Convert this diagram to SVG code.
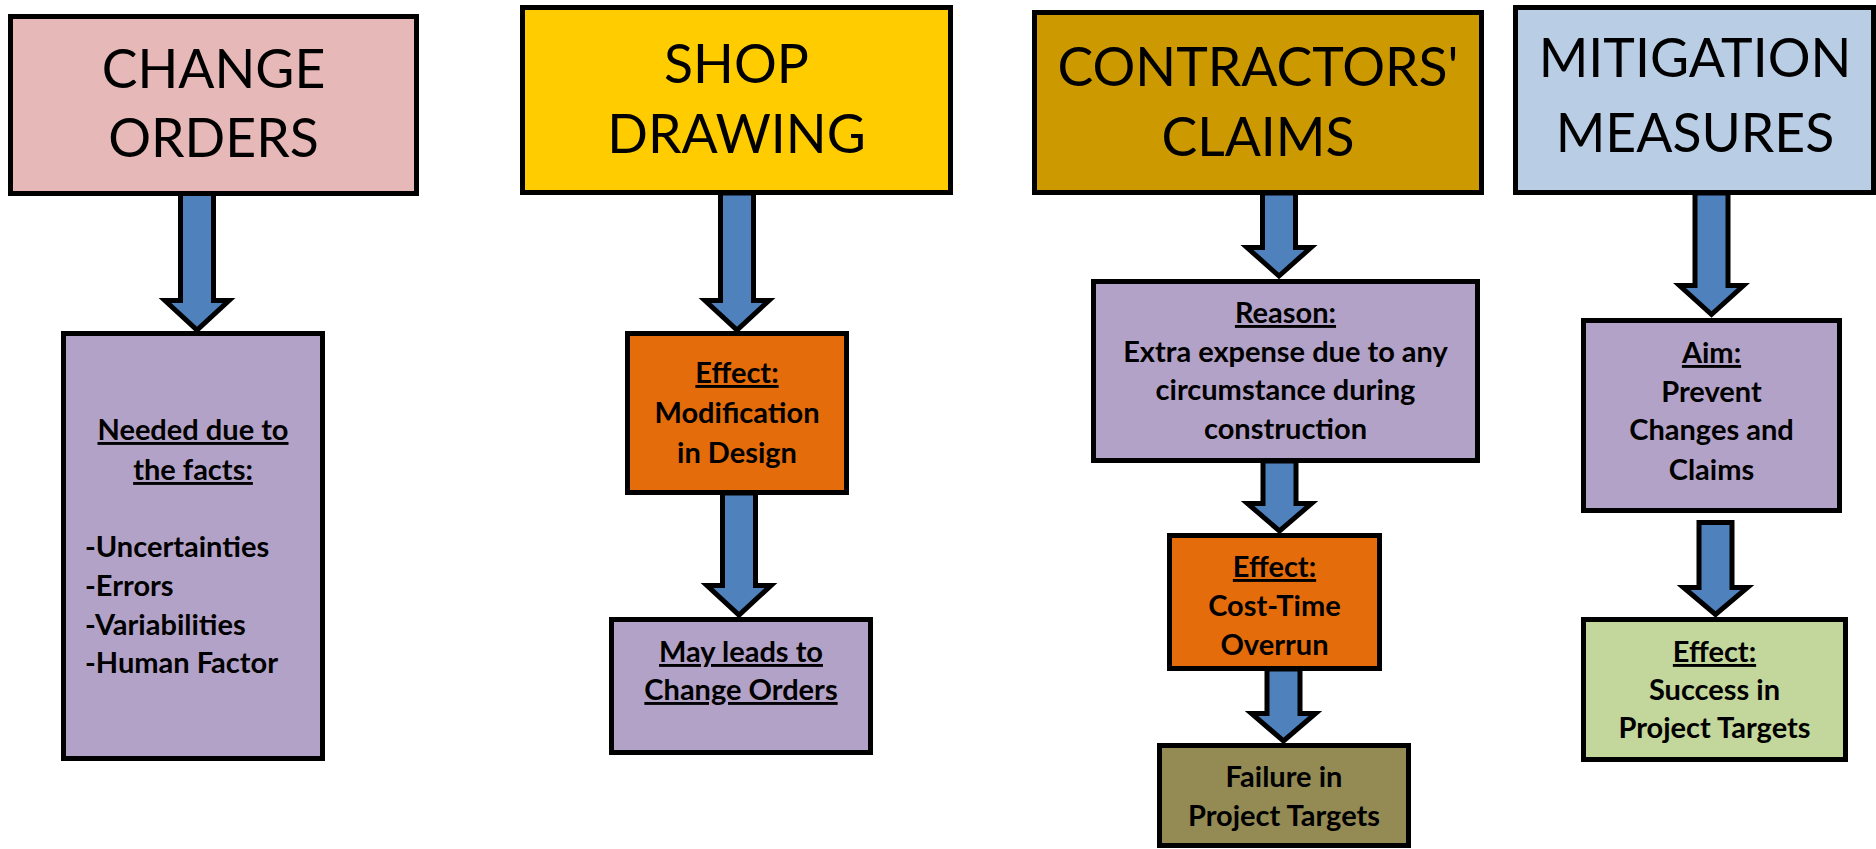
<svg xmlns="http://www.w3.org/2000/svg" width="1876" height="849" viewBox="0 0 1876 849">
  <style>
    .box { stroke: #000; stroke-width: 5; }
    .title { font-family: Lato, "Open Sans", sans-serif; font-size: 53.5px; fill: #000; text-anchor: middle; }
    .body { font-family: Lato, "Open Sans", sans-serif; font-weight: bold; font-size: 29px; fill: #000; text-anchor: middle; }
    .left { text-anchor: start; }
    .u { text-decoration: underline; }
    .arrow { fill: #4F81BD; stroke: #000; stroke-width: 5; stroke-linejoin: miter; }
    .pink { fill: #E6B8B7; }
    .yellow { fill: #FFCC00; }
    .gold { fill: #CC9900; }
    .sky { fill: #B9CDE5; }
    .lilac { fill: #B3A2C7; }
    .orange { fill: #E46C0A; }
    .olive { fill: #948A54; }
    .lime { fill: #C3D69B; }
  </style>
  <rect width="1876" height="849" fill="#fff"/>

  <!-- block arrows between stages -->
  <g id="connectors">
    <path class="arrow" d="M180.5,193 H213.5 V300.5 H229 L197,330 L165,300.5 H180.5 Z"/>
    <path class="arrow" d="M720.5,193 H753.5 V300.5 H769 L737,330 L705,300.5 H720.5 Z"/>
    <path class="arrow" d="M722.5,493 H755.5 V585.5 H771 L739,615 L707,585.5 H722.5 Z"/>
    <path class="arrow" d="M1262.5,193 H1295.5 V247.5 H1311 L1279,276 L1247,247.5 H1262.5 Z"/>
    <path class="arrow" d="M1263,461 H1296 V503.5 H1311.5 L1279.5,531 L1247.5,503.5 H1263 Z"/>
    <path class="arrow" d="M1267,669 H1300 V713.5 H1315.5 L1283.5,741 L1251.5,713.5 H1267 Z"/>
    <path class="arrow" d="M1695,193 H1728 V285.5 H1743.5 L1711.5,314.5 L1679.5,285.5 H1695 Z"/>
    <path class="arrow" d="M1699,522.5 H1732 V587.5 H1747.5 L1715.5,614.5 L1683.5,587.5 H1699 Z"/>
  </g>

  <!-- column 1: change orders -->
  <g id="change-orders">
    <rect class="box pink" x="10.5" y="16.5" width="406" height="177"/>
    <text class="title" x="213.5" y="88">CHANGE</text>
    <text class="title" x="213.5" y="157">ORDERS</text>
  </g>
  <g id="needed-facts">
    <rect class="box lilac" x="63.5" y="333.5" width="259" height="425"/>
    <text class="body u" x="193" y="440">Needed due to</text>
    <text class="body u" x="193" y="480">the facts:</text>
    <text class="body left" x="85" y="557">-Uncertainties</text>
    <text class="body left" x="85" y="596">-Errors</text>
    <text class="body left" x="85" y="635">-Variabilities</text>
    <text class="body left" x="85" y="673">-Human Factor</text>
  </g>

  <!-- column 2: shop drawing -->
  <g id="shop-drawing">
    <rect class="box yellow" x="522.5" y="7.5" width="428" height="185"/>
    <text class="title" x="736.5" y="83">SHOP</text>
    <text class="title" x="736.5" y="153">DRAWING</text>
  </g>
  <g id="design-modification">
    <rect class="box orange" x="627.5" y="333.5" width="219" height="159"/>
    <text class="body u" x="737" y="383">Effect:</text>
    <text class="body" x="737" y="423">Modification</text>
    <text class="body" x="737" y="463">in Design</text>
  </g>
  <g id="leads-to-change-orders">
    <rect class="box lilac" x="611.5" y="619.5" width="259" height="133"/>
    <text class="body u" x="741" y="662">May leads to</text>
    <text class="body u" x="741" y="700">Change Orders</text>
  </g>

  <!-- column 3: contractors' claims -->
  <g id="contractors-claims">
    <rect class="box gold" x="1034.5" y="12.5" width="447" height="180"/>
    <text class="title" x="1258" y="86">CONTRACTORS'</text>
    <text class="title" x="1258" y="156">CLAIMS</text>
  </g>
  <g id="claim-reason">
    <rect class="box lilac" x="1093.5" y="281.5" width="384" height="179"/>
    <text class="body u" x="1285.5" y="323">Reason:</text>
    <text class="body" x="1285.5" y="362">Extra expense due to any</text>
    <text class="body" x="1285.5" y="400">circumstance during</text>
    <text class="body" x="1285.5" y="439">construction</text>
  </g>
  <g id="cost-time-overrun">
    <rect class="box orange" x="1169.5" y="535.5" width="210" height="133"/>
    <text class="body u" x="1274.5" y="577">Effect:</text>
    <text class="body" x="1274.5" y="616">Cost-Time</text>
    <text class="body" x="1274.5" y="655">Overrun</text>
  </g>
  <g id="target-failure">
    <rect class="box olive" x="1159.5" y="745.5" width="249" height="100"/>
    <text class="body" x="1284" y="787">Failure in</text>
    <text class="body" x="1284" y="826">Project Targets</text>
  </g>

  <!-- column 4: mitigation measures -->
  <g id="mitigation-measures">
    <rect class="box sky" x="1515.5" y="7.5" width="358" height="185"/>
    <text class="title" x="1695" y="77">MITIGATION</text>
    <text class="title" x="1695" y="152">MEASURES</text>
  </g>
  <g id="mitigation-aim">
    <rect class="box lilac" x="1583.5" y="320.5" width="256" height="190"/>
    <text class="body u" x="1711.5" y="363">Aim:</text>
    <text class="body" x="1711.5" y="402">Prevent</text>
    <text class="body" x="1711.5" y="440">Changes and</text>
    <text class="body" x="1711.5" y="480">Claims</text>
  </g>
  <g id="target-success">
    <rect class="box lime" x="1583.5" y="619.5" width="262" height="140"/>
    <text class="body u" x="1714.5" y="662">Effect:</text>
    <text class="body" x="1714.5" y="700">Success in</text>
    <text class="body" x="1714.5" y="738">Project Targets</text>
  </g>
</svg>
